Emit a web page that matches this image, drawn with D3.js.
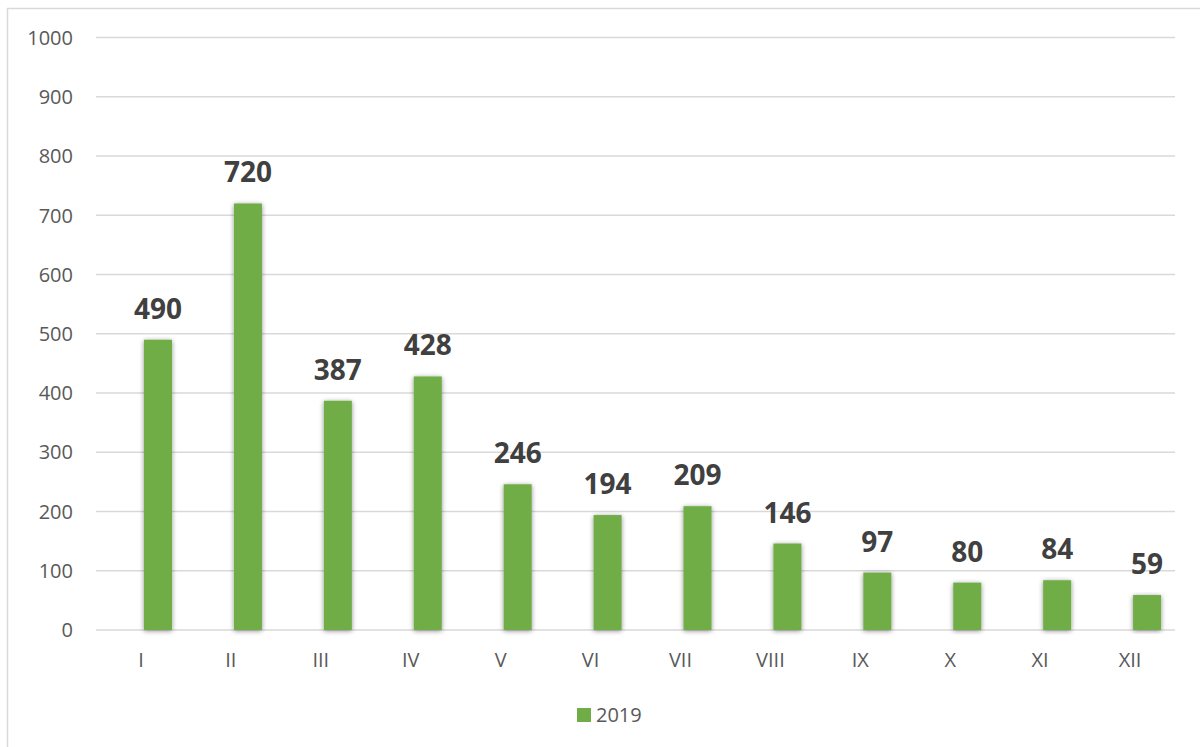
<!DOCTYPE html>
<html><head><meta charset="utf-8">
<script src="https://cdn.jsdelivr.net/npm/d3@7"></script>
<style>body{margin:0;background:#fff;} svg{display:block;font-family:"Open Sans",sans-serif;}</style>
</head><body>
<svg id="c" width="1200" height="747"></svg>
<script>
const categories = ["I","II","III","IV","V","VI","VII","VIII","IX","X","XI","XII"];
const values2019 = [490,720,387,428,246,194,209,146,97,80,84,59];
const yTicks = [0,100,200,300,400,500,600,700,800,900,1000];
const seriesName = "2019";

const svg = d3.select("#c");
const m = {left:96, right:1175, top:37.6, bottom:630};

// chart border
svg.append("rect").attr("x",7.5).attr("y",8.5).attr("width",1300).attr("height",800)
  .attr("fill","#fff").attr("stroke","#d9d9d9").attr("stroke-width",1.5);

const defs = svg.append("defs");
const f = defs.append("filter").attr("id","sh").attr("x","-30%").attr("y","-10%").attr("width","160%").attr("height","120%");
f.append("feGaussianBlur").attr("in","SourceAlpha").attr("stdDeviation",2.5).attr("result","b");
f.append("feOffset").attr("in","b").attr("dx",0).attr("dy",1).attr("result","o");
f.append("feComponentTransfer").attr("in","o").attr("result","o2").append("feFuncA").attr("type","linear").attr("slope",0.45);
const mg = f.append("feMerge"); mg.append("feMergeNode").attr("in","o2"); mg.append("feMergeNode").attr("in","SourceGraphic");

const y = d3.scaleLinear().domain([0,1000]).range([m.bottom,m.top]);
const x = d3.scaleBand().domain(categories).range([m.left,m.right]).padding(0);
// Excel-like grouping: two slots per category, the visible series in the second
const inner = d3.scaleBand().domain(["_", seriesName]).range([0,x.bandwidth()])
  .paddingInner(0).paddingOuter(0.605).align(0.59);

// gridlines
svg.append("g").selectAll("line").data(yTicks).join("line")
  .attr("x1",m.left).attr("x2",m.right)
  .attr("y1",d=>y(d)).attr("y2",d=>y(d))
  .attr("stroke","#d9d9d9").attr("stroke-width",1.5);

// y tick labels
svg.append("g").selectAll("text").data(yTicks).join("text")
  .attr("x",73).attr("y",d=>y(d)).attr("dy","0.36em")
  .attr("text-anchor","end").attr("font-size",20).attr("fill","#595959")
  .text(d=>d);

// bars
svg.append("g").selectAll("rect").data(values2019).join("rect")
  .attr("x",(d,i)=>x(categories[i])+inner(seriesName))
  .attr("width",inner.bandwidth())
  .attr("y",d=>y(d)).attr("height",d=>y(0)-y(d))
  .attr("fill","#70ad47").attr("filter","url(#sh)");

// data labels
svg.append("g").selectAll("text").data(values2019).join("text")
  .attr("x",(d,i)=>x(categories[i])+inner(seriesName)+inner.bandwidth()/2)
  .attr("y",d=>y(d)-21)
  .attr("text-anchor","middle").attr("font-size",28).attr("font-weight","bold").attr("fill","#404040")
  .text(d=>d);

// category labels
svg.append("g").selectAll("text").data(categories).join("text")
  .attr("x",d=>x(d)+x.bandwidth()/2).attr("y",667)
  .attr("text-anchor","middle").attr("font-size",20).attr("fill","#595959")
  .text(d=>d);

// legend
const lg = svg.append("g");
lg.append("rect").attr("x",577).attr("y",708).attr("width",14).attr("height",14).attr("fill","#70ad47");
lg.append("text").attr("x",596).attr("y",722).attr("font-size",20).attr("fill","#595959").text(seriesName);
</script>
</body></html>
